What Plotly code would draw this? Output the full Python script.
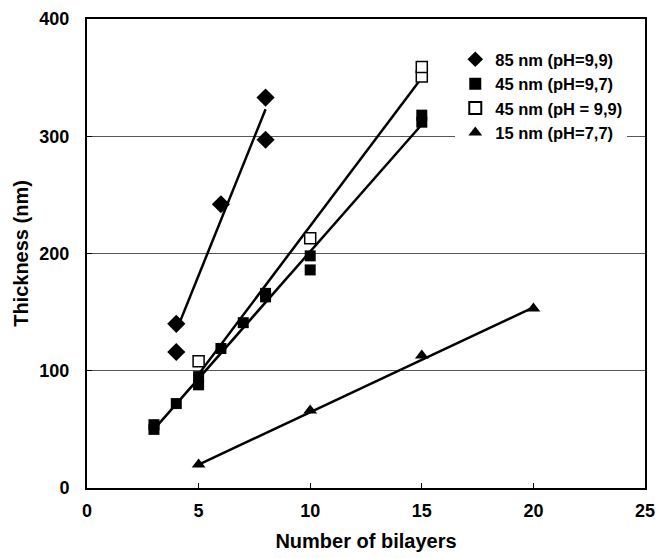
import plotly.graph_objects as go

# ---- data ----
x85 = [4, 4, 6, 8, 8]
y85 = [140, 116, 242, 333, 297]
fit85_x = [4, 8]
fit85_y = [134, 323]

x45a = [3, 3, 4, 5, 5, 6, 7, 8, 8, 10, 10, 15, 15]
y45a = [50, 54, 72, 88, 95, 119, 141, 163, 166, 186, 198, 312, 318]
fit45a_x = [3, 15]
fit45a_y = [50, 310]

x45b = [5, 10, 15, 15]
y45b = [108, 213, 351, 359]
fit45b_x = [5, 15]
fit45b_y = [97, 350]

x15 = [5, 10, 15, 20]
y15 = [20, 66, 113, 153]
fit15_x = [5, 20]
fit15_y = [20, 154]

names = ["85 nm (pH=9,9)", "45 nm (pH=9,7)", "45 nm (pH = 9,9)", "15 nm (pH=7,7)"]

x_ticks = [0, 5, 10, 15, 20, 25]
y_ticks = [0, 100, 200, 300, 400]

FONT = "Liberation Sans, Arial, sans-serif"
fig = go.Figure()

line_style = dict(color="black", width=2.5)
for fx, fy in [(fit85_x, fit85_y), (fit45a_x, fit45a_y), (fit45b_x, fit45b_y), (fit15_x, fit15_y)]:
    fig.add_trace(go.Scatter(x=fx, y=fy, mode="lines", line=line_style,
                             showlegend=False, hoverinfo="skip"))

fig.add_trace(go.Scatter(x=x85, y=y85, mode="markers", name=names[0],
                         marker=dict(symbol="diamond", size=14, color="black")))
fig.add_trace(go.Scatter(x=x45a, y=y45a, mode="markers", name=names[1],
                         marker=dict(symbol="square", size=11, color="black")))
fig.add_trace(go.Scatter(x=x45b, y=y45b, mode="markers", name=names[2],
                         marker=dict(symbol="square", size=11, color="white",
                                     line=dict(color="black", width=1.5))))
fig.add_trace(go.Scatter(x=x15, y=y15, mode="markers", name=names[3],
                         marker=dict(symbol="triangle-up", size=12, color="black")))

fig.update_layout(
    width=667, height=558,
    margin=dict(l=87, r=22, t=19, b=70),
    plot_bgcolor="white", paper_bgcolor="white",
    font=dict(family=FONT, color="black"),
    showlegend=True,
    legend=dict(x=0.66, y=0.951, xanchor="left", yanchor="top",
                bgcolor="white", borderwidth=0,
                font=dict(family=FONT, size=16.5, weight="bold", color="black"),
                itemsizing="constant"),
    xaxis=dict(range=[0, 25], tickvals=x_ticks, ticktext=[str(v) for v in x_ticks],
               ticks="inside", ticklen=5, tickcolor="black", tickwidth=1,
               showline=True, linecolor="black", linewidth=2, mirror=True,
               showgrid=False, zeroline=False, automargin=False,
               tickfont=dict(family=FONT, size=18, weight="bold"),
               ticklabelstandoff=5,
               title=dict(text="Number of bilayers", standoff=14,
                          font=dict(family=FONT, size=20, weight="bold"))),
    yaxis=dict(range=[0, 400], tickvals=y_ticks, ticktext=[str(v) for v in y_ticks],
               ticks="inside", ticklen=5, tickcolor="black", tickwidth=1,
               showline=True, linecolor="black", linewidth=2, mirror=True,
               showgrid=True, gridcolor="#555555", gridwidth=1, zeroline=False,
               automargin=False,
               tickfont=dict(family=FONT, size=18, weight="bold"),
               ticklabelstandoff=12,
               title=dict(text="Thickness (nm)", standoff=5,
                          font=dict(family=FONT, size=20, weight="bold"))),
)

fig.write_html("out.html")
